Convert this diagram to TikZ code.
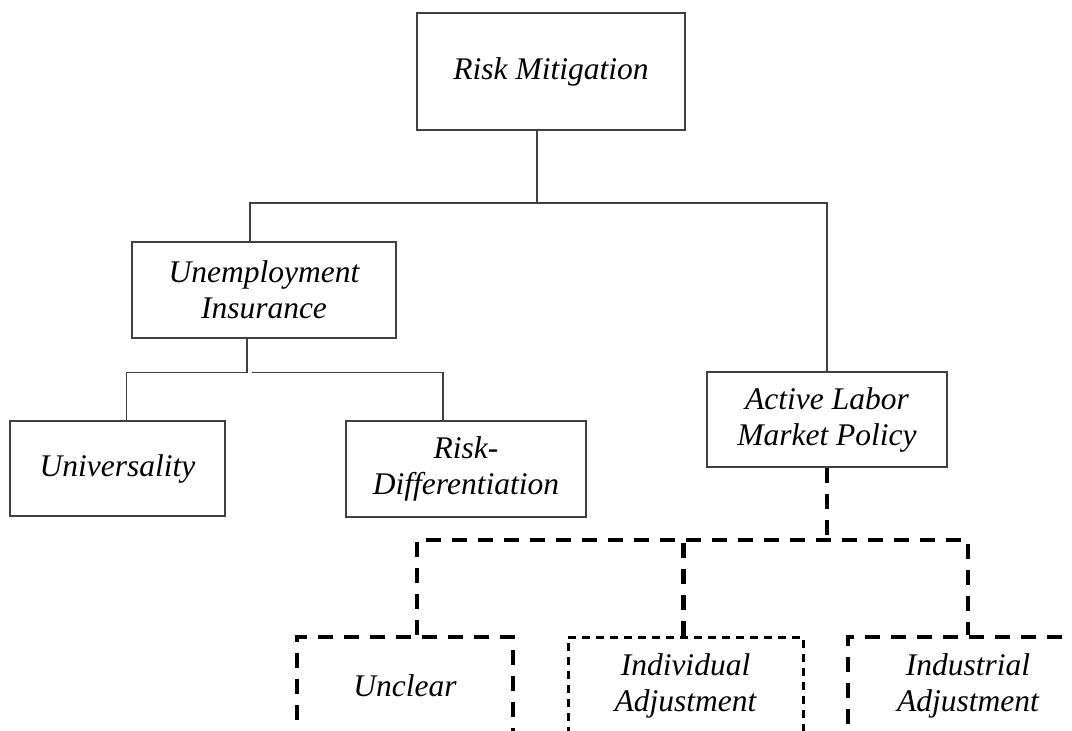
\documentclass[tikz,border=0pt]{standalone}
\usepackage{fontspec}
\setmainfont{Liberation Serif}
\usetikzlibrary{positioning}
\definecolor{LineGray}{RGB}{64,64,64}

\begin{document}
\begin{tikzpicture}[x=1pt,y=-1pt,box/.style={draw=LineGray,line width=1.3pt,align=center,inner sep=0pt,font=\fontsize{31.5}{36}\selectfont\itshape},dbox/.style={box,draw=black,line width=4.5pt,dash pattern=on 15pt off 11pt},tbox/.style={box,draw=black,line width=3pt,dash pattern=on 8pt off 6pt},link/.style={draw=LineGray,line width=1.3pt},dlink/.style={draw=black,line width=4.5pt,dash pattern=on 15pt off 11pt}]
\useasboundingbox (0,0) rectangle (1072,731);
% top level
\node[box,minimum width=268pt,minimum height=117pt] (rm) at (551,71.5) {Risk Mitigation};
\node[box,minimum width=264pt,minimum height=96pt] (ui) at (264,290) {Unemployment\\Insurance};
\node[box,minimum width=240pt,minimum height=95pt] (almp) at (827,419.5) {Active Labor\\Market Policy};
% unemployment insurance branch
\node[box,minimum width=215pt,minimum height=95pt] (univ) at (117.5,468.5) {Universality};
\node[box,minimum width=240pt,minimum height=96pt] (rd) at (466,469) {Risk-\\Differentiation};
% labor market policy branch
\node[dbox,minimum width=216pt,minimum height=98pt] (unclear) at (405,686) {Unclear};
\node[tbox,minimum width=235pt,minimum height=98pt] (indiv) at (685.5,686) {Individual\\Adjustment};
\node[dbox,minimum width=240pt,minimum height=98pt] (indus) at (968,686) {Industrial\\Adjustment};
% connectors
\coordinate (rj) at (537,203);
\draw[link] ([xshift=-14pt]rm.south) -- (rj);
\draw[link] ([xshift=-14pt]ui.north) |- (rj) -| (almp.north);
\draw[link] ([xshift=-17pt]ui.south) -- ++(0,34) coordinate (uj) -| ([xshift=9pt]univ.north);
\draw[link] ([xshift=5pt]uj) -| ([xshift=-23pt]rd.north);
\coordinate (dj) at (827,540);
\draw[dlink] (almp.south) -- (dj);
\draw[dlink] ([xshift=12pt]unclear.north) |- (dj) -| (indus.north);
\draw[dlink] ([xshift=-2pt]indiv.north) -- ([xshift=-2pt]indiv.north |- dj);
\end{tikzpicture}
\end{document}
